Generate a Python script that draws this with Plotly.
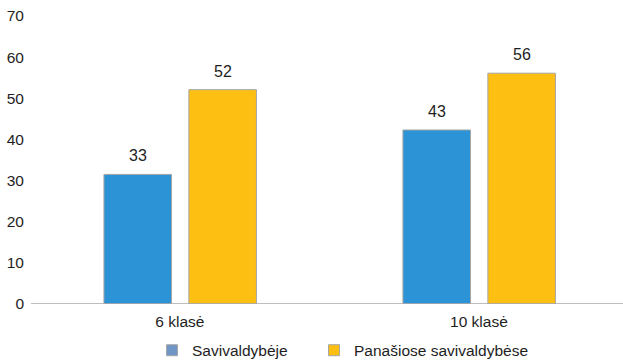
import plotly.graph_objects as go

categories = ["6 klasė", "10 klasė"]
series_names = ["Savivaldybėje", "Panašiose savivaldybėse"]
# bar heights as drawn in the picture
values_local = [31.5, 42.3]
values_similar = [52.1, 56.1]
# printed data labels
labels_local = ["33", "43"]
labels_similar = ["52", "56"]
y_ticks = [0, 10, 20, 30, 40, 50, 60, 70]

FONT = "Liberation Sans, Arial, sans-serif"
FS = 15.5
TXT = "#1e1e1e"
BLUE = "#2b93d6"
YELLOW = "#fdbf12"
BLUE_LEG = "#6f96c4"
YELLOW_LEG = "#fdbf12"
EDGE = "#a6a6a6"

W_BAR = 0.226
OFF_A = -0.254
OFF_B = 0.030

fig = go.Figure()
fig.add_trace(go.Bar(
    x=categories, y=values_local, name=series_names[0],
    marker=dict(color=BLUE, line=dict(color=EDGE, width=1)),
    width=W_BAR, offset=OFF_A, showlegend=False,
))
fig.add_trace(go.Bar(
    x=categories, y=values_similar, name=series_names[1],
    marker=dict(color=YELLOW, line=dict(color=EDGE, width=1)),
    width=W_BAR, offset=OFF_B, showlegend=False,
))

annotations = []
for i, cat in enumerate(categories):
    for vals, labs, off in ((values_local, labels_local, OFF_A), (values_similar, labels_similar, OFF_B)):
        annotations.append(dict(
            x=i + off + W_BAR / 2, y=vals[i], xref="x", yref="y", text=labs[i],
            showarrow=False, yanchor="bottom", yshift=8,
            font=dict(size=FS + 0.5, family=FONT, color=TXT),
        ))

legend_ids = ["legend", "legend2"]
legend_x = [(152 - 31) / 592, (314 - 31) / 592]
for nm, col, lid in zip(series_names, [BLUE_LEG, YELLOW_LEG], legend_ids):
    fig.add_trace(go.Scatter(
        x=[None], y=[None], mode="markers", name=nm, legend=lid,
        marker=dict(symbol="square", size=11, color=col, line=dict(color=EDGE, width=1)),
    ))

leg_common = dict(orientation="h", xanchor="left", y=-0.162, yanchor="middle",
                  font=dict(size=FS, family=FONT, color=TXT),
                  bgcolor="rgba(0,0,0,0)", itemclick=False, itemdoubleclick=False)

fig.update_layout(
    width=623, height=362,
    margin=dict(l=31, r=0, t=16, b=58, autoexpand=False),
    paper_bgcolor="white", plot_bgcolor="white",
    font=dict(family=FONT, size=FS, color=TXT),
    barmode="overlay",
    showlegend=True,
    legend=dict(x=legend_x[0], **leg_common),
    legend2=dict(x=legend_x[1], **leg_common),
    xaxis=dict(type="category", range=[-0.498, 1.482], showgrid=False, zeroline=False,
               showline=False, ticks="", ticklabelstandoff=6, automargin=False,
               tickfont=dict(size=FS, family=FONT, color=TXT)),
    yaxis=dict(range=[0, 70], tickvals=y_ticks, showgrid=False, zeroline=False,
               showline=False, ticks="", ticklabelstandoff=6, automargin=False,
               tickfont=dict(size=FS, family=FONT, color=TXT)),
    shapes=[dict(type="line", xref="paper", yref="y", x0=0, x1=1, y0=0, y1=0,
                 line=dict(color="#a8a8a8", width=1.5))],
    annotations=annotations,
)

fig.write_html("out.html", config={"displayModeBar": False},
               post_script="document.body.style.margin='0';document.body.style.padding='0';")
